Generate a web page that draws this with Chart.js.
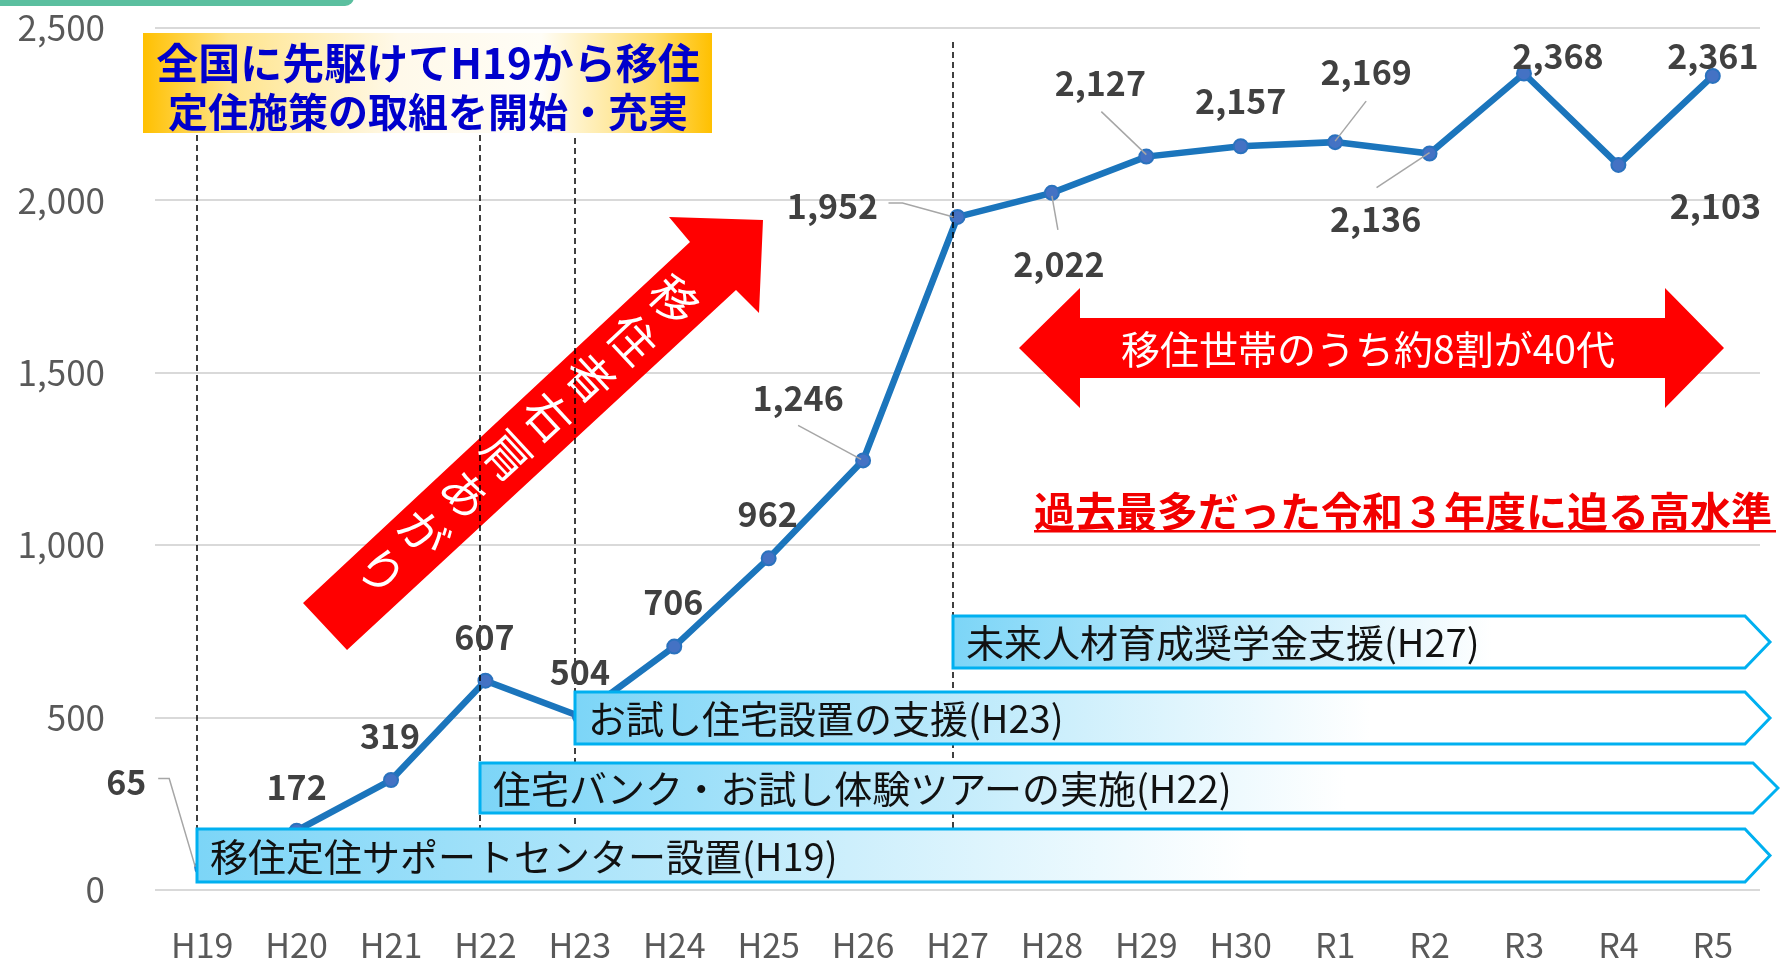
<!DOCTYPE html>
<html lang="ja">
<head>
<meta charset="utf-8">
<title>移住者数の推移</title>
<script src="https://cdn.jsdelivr.net/npm/chart.js@4.4.1/dist/chart.umd.min.js"></script>
<style>
  html, body { margin: 0; padding: 0; background: #fff; }
  #wrap { width: 1780px; height: 960px; }
</style>
</head>
<body>
<div id="wrap"><canvas id="chart" width="1780" height="960"></canvas></div>
<script>
  // data
  const years = ['H19', 'H20', 'H21', 'H22', 'H23', 'H24', 'H25', 'H26', 'H27',
    'H28', 'H29', 'H30', 'R1', 'R2', 'R3', 'R4', 'R5'];
  const migrants = [65, 172, 319, 607, 504, 706, 962, 1246, 1952,
    2022, 2127, 2157, 2169, 2136, 2368, 2103, 2361];
  const yTicks = [0, 500, 1000, 1500, 2000, 2500];

  const FONT = "'Noto Sans CJK JP', 'Noto Sans', sans-serif";

  // where each value label sits relative to its point (dx, dy) + optional leader line
  const labelPos = [
    { dx: -76, dy: -86, leader: [[-44, -89], [-33, -89], [-7, -1]] },
    { dx: 0, dy: -44 },
    { dx: -1, dy: -44 },
    { dx: -1, dy: -44 },
    { dx: 0, dy: -44 },
    { dx: -1, dy: -44 },
    { dx: -1, dy: -44 },
    { dx: -65, dy: -62, leader: [[-65, -35], [-2, -1]] },
    { dx: -125, dy: -11, leader: [[-69, -14], [-55, -14], [-4, 0]] },
    { dx: 7, dy: 71, leader: [[6, 37], [0, 3]] },
    { dx: -46, dy: -74, leader: [[-45, -45], [0, -2]] },
    { dx: 0, dy: -45 },
    { dx: 31, dy: -70, leader: [[31, -41], [0, -1]] },
    { dx: -54, dy: 66, leader: [[-53, 34], [0, -1]] },
    { dx: 34, dy: -17 },
    { dx: 97, dy: 41 },
    { dx: 0, dy: -20 }
  ];

  // policy bars (start year, top, height, end of body)
  const programs = [
    { text: '移住定住サポートセンター設置(H19)', from: 'H19', top: 829, h: 53, end: 1745, dashTop: 135 },
    { text: '住宅バンク・お試し体験ツアーの実施(H22)', from: 'H22', top: 763, h: 50, end: 1753, dashTop: 135 },
    { text: 'お試し住宅設置の支援(H23)', from: 'H23', top: 692, h: 52, end: 1745, dashTop: 138 },
    { text: '未来人材育成奨学金支援(H27)', from: 'H27', top: 616, h: 52, end: 1745, dashTop: 42 }
  ];

  function poly(ctx, pts) {
    ctx.beginPath();
    ctx.moveTo(pts[0][0], pts[0][1]);
    for (let i = 1; i < pts.length; i++) ctx.lineTo(pts[i][0], pts[i][1]);
    ctx.closePath();
  }

  const decor = {
    id: 'decor',
    beforeDatasetsDraw(chart) {
      const ctx = chart.ctx;
      ctx.save();

      // green tab at top-left
      ctx.fillStyle = '#5BBF9F';
      ctx.beginPath();
      ctx.roundRect(-20, -30, 374, 36, 9);
      ctx.fill();

      // yellow title box
      const g = ctx.createLinearGradient(143, 0, 712, 0);
      g.addColorStop(0, '#FFC000');
      g.addColorStop(0.15, '#FFE48A');
      g.addColorStop(0.45, '#FFF9EA');
      g.addColorStop(0.7, '#FFFDF6');
      g.addColorStop(0.9, '#FFDC6A');
      g.addColorStop(1, '#FFC000');
      ctx.fillStyle = g;
      ctx.fillRect(143, 33, 569, 100);
      ctx.fillStyle = '#0000CC';
      ctx.textAlign = 'center';
      ctx.textBaseline = 'middle';
      ctx.font = 'bold 42px ' + FONT;
      ctx.fillText('全国に先駆けてH19から移住', 428, 63);
      ctx.font = 'bold 40px ' + FONT;
      ctx.fillText('定住施策の取組を開始・充実', 428, 112);

      // big diagonal arrow
      ctx.fillStyle = '#FF0000';
      poly(ctx, [[303, 603], [690, 242], [669, 217], [763, 220], [759, 313], [736, 290], [347, 650]]);
      ctx.fill();
      const word = '移住者右肩あがり';
      const ang = Math.atan2(0.733, 0.680);
      ctx.fillStyle = '#FFFFFF';
      ctx.font = '47px ' + FONT;
      for (let i = 0; i < word.length; i++) {
        ctx.save();
        ctx.translate(674 - i * 57 * 0.733, 300 + i * 57 * 0.680);
        ctx.rotate(ang);
        ctx.fillText(word[i], 0, 0);
        ctx.restore();
      }

      // double arrow
      ctx.fillStyle = '#FF0000';
      poly(ctx, [[1019, 348], [1080, 288], [1080, 318], [1665, 318], [1665, 288], [1724, 348],
        [1665, 408], [1665, 378], [1080, 378], [1080, 408]]);
      ctx.fill();
      ctx.fillStyle = '#FFFFFF';
      ctx.font = '39px ' + FONT;
      ctx.fillText('移住世帯のうち約8割が40代', 1368, 349);

      // red note
      ctx.fillStyle = '#F20000';
      ctx.textAlign = 'left';
      ctx.font = 'bold 41px ' + FONT;
      ctx.fillText('過去最多だった令和３年度に迫る高水準', 1034, 511);
      ctx.fillRect(1034, 530, 742, 2.5);

      ctx.restore();
    },
    afterDatasetsDraw(chart) {
      const ctx = chart.ctx;
      const x = chart.scales.x;
      ctx.save();

      // dashed guides
      ctx.strokeStyle = '#000';
      ctx.lineWidth = 1.5;
      ctx.setLineDash([6, 4]);
      programs.forEach(p => {
        const px = Math.round(x.getPixelForValue(years.indexOf(p.from))) - 5;
        ctx.beginPath();
        ctx.moveTo(px, p.dashTop);
        ctx.lineTo(px, 829);
        ctx.stroke();
      });
      ctx.setLineDash([]);

      // policy bars
      programs.forEach(p => {
        const left = Math.round(x.getPixelForValue(years.indexOf(p.from))) - 5;
        const g = ctx.createLinearGradient(left, 0, p.end, 0);
        g.addColorStop(0, '#7CD5F7');
        g.addColorStop(0.68, '#FFFFFF');
        g.addColorStop(1, '#FFFFFF');
        poly(ctx, [[left, p.top], [p.end, p.top], [p.end + 25, p.top + p.h / 2],
          [p.end, p.top + p.h], [left, p.top + p.h]]);
        ctx.fillStyle = g;
        ctx.fill();
        ctx.strokeStyle = '#00B0F0';
        ctx.lineWidth = 3;
        ctx.stroke();
        ctx.fillStyle = '#111';
        ctx.font = '38px ' + FONT;
        ctx.textAlign = 'left';
        ctx.textBaseline = 'middle';
        ctx.fillText(p.text, left + 13, p.top + p.h / 2 + 1);
      });

      // value labels
      const meta = chart.getDatasetMeta(0);
      ctx.textAlign = 'center';
      ctx.textBaseline = 'middle';
      ctx.font = 'bold 34px ' + FONT;
      meta.data.forEach((pt, i) => {
        const lp = labelPos[i];
        if (lp.leader) {
          ctx.strokeStyle = '#A6A6A6';
          ctx.lineWidth = 1.5;
          ctx.beginPath();
          lp.leader.forEach((q, k) => {
            if (k === 0) ctx.moveTo(pt.x + q[0], pt.y + q[1]);
            else ctx.lineTo(pt.x + q[0], pt.y + q[1]);
          });
          ctx.stroke();
        }
        ctx.fillStyle = '#404040';
        ctx.fillText(migrants[i].toLocaleString('en-US'), pt.x + lp.dx, pt.y + lp.dy);
      });

      ctx.restore();
    }
  };

  new Chart(document.getElementById('chart'), {
    type: 'line',
    data: {
      labels: years,
      datasets: [{
        data: migrants,
        borderColor: '#1B75BC',
        borderWidth: 6.5,
        tension: 0,
        pointRadius: 7,
        pointBorderWidth: 2,
        pointBackgroundColor: '#4472C4',
        pointBorderColor: '#2A72BE'
      }]
    },
    options: {
      responsive: false,
      animation: false,
      layout: { padding: { top: 28, right: 20, left: 0, bottom: 0 } },
      plugins: { legend: { display: false }, tooltip: { enabled: false } },
      scales: {
        x: {
          offset: true,
          grid: { display: false },
          border: { display: false },
          ticks: {
            color: '#595959',
            font: { family: FONT, size: 34 },
            padding: 27,
            autoSkip: false,
            maxRotation: 0
          },
          afterFit(s) { s.height = 70; }
        },
        y: {
          min: 0,
          max: 2500,
          afterBuildTicks(s) { s.ticks = yTicks.map(v => ({ value: v })); },
          ticks: {
            color: '#595959',
            font: { family: FONT, size: 35 },
            padding: 50,
            callback: v => v.toLocaleString('en-US')
          },
          grid: { color: '#D9D9D9', lineWidth: 2, drawTicks: false },
          border: { display: false },
          afterFit(s) {
            s.width = 155;
            s.paddingTop = 0;
            s.paddingBottom = 0;
          }
        }
      }
    },
    plugins: [decor]
  });
</script>
</body>
</html>
